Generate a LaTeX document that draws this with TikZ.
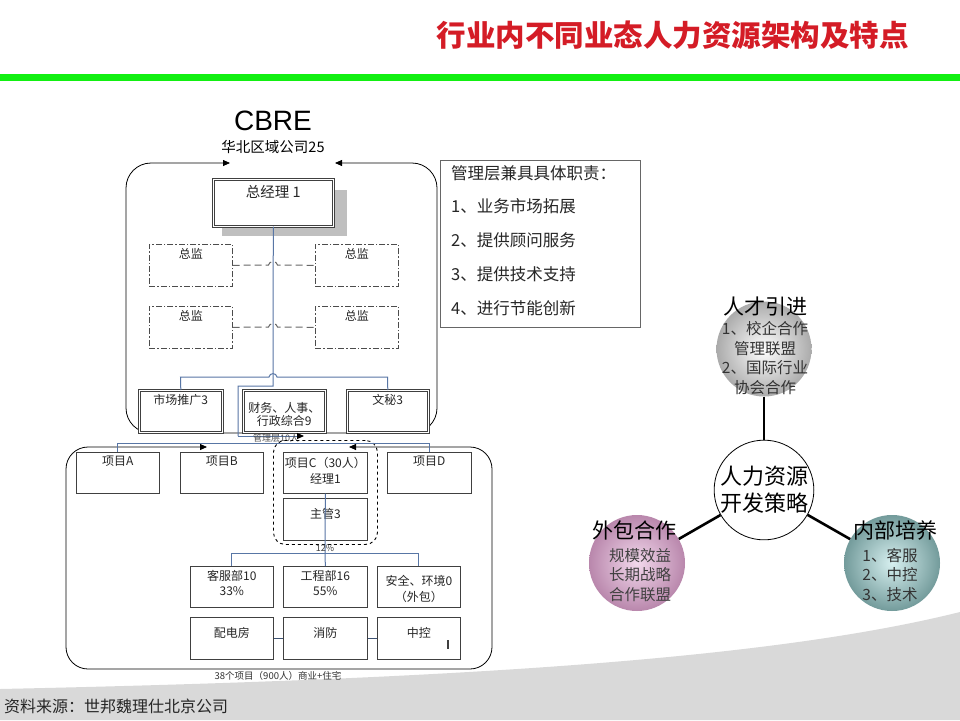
\documentclass[tikz,border=0pt]{standalone}
\usepackage{fontspec}
\setmainfont{Noto Sans CJK SC}
\newfontfamily\arialf{Liberation Sans}
\usetikzlibrary{arrows.meta}
\definecolor{titlered}{RGB}{212,28,38}
\definecolor{bargreen}{RGB}{18,240,18}
\definecolor{lineblue}{RGB}{88,118,165}
\definecolor{swoosh}{RGB}{217,217,217}
\definecolor{pinkin}{RGB}{242,216,236}
\definecolor{pinkout}{RGB}{185,135,172}
\definecolor{tealin}{RGB}{215,240,240}
\definecolor{tealout}{RGB}{115,155,155}
\begin{document}
\begin{tikzpicture}[x=1pt,y=-1pt,
  box/.style={draw=black!75, line width=0.7pt, fill=white, anchor=north west, inner sep=0pt},
  dbox/.style={box, double=white, double distance=1.4pt, line width=0.6pt},
  ddbox/.style={draw=black!70, line width=0.7pt, dash pattern=on 6pt off 2pt on 1.5pt off 2pt, anchor=north west, inner sep=0pt},
  toptext/.style={anchor=north, inner sep=0pt, yshift=-4pt, align=center, font=\fontsize{12}{15}\selectfont, text=black!85},
  bl/.style={draw=lineblue, line width=1pt},
  tip/.style={-{Triangle[length=7pt,width=6pt,color=black]}},
  bothtip/.style={{Triangle[length=7pt,width=6pt]}-{Triangle[length=7pt,width=6pt]}},
  ctitle/.style={font=\fontsize{21}{21}\selectfont, inner sep=0pt},
  cbody/.style={font=\fontsize{15.5}{19.5}\selectfont, inner sep=0pt, align=center, text=black!80},
  strong/.style={line width=2.6pt, draw=black}
]
\useasboundingbox (0,0) rectangle (960,720);
\fill[white] (0,0) rectangle (960,720);

% bottom swoosh
\fill[swoosh] (0,689) .. controls (420,680) and (760,662) .. (960,612) -- (960,720) -- (0,720) -- cycle;

% title and green bar
\node[anchor=east, inner sep=0pt, text=titlered, font=\bfseries\fontsize{29.5}{30}\selectfont] (title) at (909,35) {行业内不同业态人力资源架构及特点};
\fill[bargreen] (0,73.5) rectangle (960,80.5);

% ---------------- upper org box ----------------
\node[font=\arialf\fontsize{28}{28}\selectfont, inner sep=0pt] (cbre) at (273,121) {CBRE};
\node[font=\fontsize{14.5}{15}\selectfont, inner sep=0pt] (region) at (273,147) {华北区域公司25};
\draw[line width=0.8pt, rounded corners=25pt, bothtip] (230,163) -- (126,163) -- (126,433) -- (437,433) -- (437,163) -- (335,163);

\fill[black!25] (222,190) rectangle (347,236);
\node[dbox, minimum width=120pt, minimum height=47pt, label={[toptext, font=\fontsize{14.5}{15}\selectfont, yshift=-2pt]north:总经理 1}] (gm) at (213,179) {};

\node[ddbox, minimum width=83pt, minimum height=42pt, label={[toptext]north:总监}] (zul) at (149,244) {};
\node[ddbox, minimum width=83pt, minimum height=42pt, label={[toptext]north:总监}] (zur) at (315,244) {};
\node[ddbox, minimum width=83pt, minimum height=42pt, label={[toptext]north:总监}] (zll) at (149,306) {};
\node[ddbox, minimum width=83pt, minimum height=42pt, label={[toptext]north:总监}] (zlr) at (315,306) {};

\node[dbox, minimum width=83pt, minimum height=42pt, label={[toptext]north:市场推广3}] (mkt) at (139,390) {};
\node[dbox, minimum width=82pt, minimum height=42pt, label={[toptext, font=\fontsize{12}{13}\selectfont, yshift=-8pt]north:财务、人事、\\行政综合9}] (fin) at (243,390) {};
\node[dbox, minimum width=81pt, minimum height=42pt, label={[toptext]north:文秘3}] (sec) at (347,390) {};

% blue tree lines in upper box
\draw[bl] (gm.south) -- (273,386) -- (238,386) -- (238,436);
\draw[bl, tip] (238,436) -- (304,436);
\draw[bl] (mkt.north) -- (180.5,377) -- (269,377) .. controls (269.5,372.5) and (276.5,372.5) .. (277,377) -- (387.5,377) -- (sec.north);
\draw[draw=black!60, line width=1pt, dash pattern=on 7pt off 4pt] (zul.east) -- (268.5,265) .. controls (269,260.5) and (277,260.5) .. (277.5,265) -- (zur.west);
\draw[draw=black!60, line width=1pt, dash pattern=on 7pt off 4pt] (zll.east) -- (268.5,327) .. controls (269,322.5) and (277,322.5) .. (277.5,327) -- (zlr.west);
\node[font=\fontsize{9}{9}\selectfont, inner sep=0pt, text=black!70] (mgmt) at (276,438) {管理层10人};

% ---------------- info box ----------------
\node[draw=black!60, line width=1.2pt, anchor=north west, minimum width=200pt, minimum height=167pt, inner sep=0pt] (info) at (440,160) {};
\node[anchor=north west, inner sep=0pt, align=left, font=\fontsize{16.5}{33.8}\selectfont, text=black!85] (infotext) at (451,165) {管理层兼具具体职责：\\1、业务市场拓展\\2、提供顾问服务\\3、提供技术支持\\4、进行节能创新};

% ---------------- lower org box ----------------
\draw[line width=0.8pt, rounded corners=22pt, bothtip] (207,447) -- (66,447) -- (66,669) -- (492,669) -- (492,447) -- (349,447);
\node[font=\fontsize{9.5}{10}\selectfont, inner sep=0pt, text=black!80] (total) at (278,676) {38个项目（900人）商业+住宅};

\node[box, minimum width=83pt, minimum height=41pt, label={[toptext]north:项目A}] (pa) at (76,452) {};
\node[box, minimum width=83pt, minimum height=41pt, label={[toptext]north:项目B}] (pb) at (180,452) {};
\node[box, minimum width=84pt, minimum height=41pt, label={[toptext, font=\fontsize{12}{16}\selectfont, yshift=-1pt]north:项目C（30人）\\经理1}] (pc) at (283,452) {};
\node[box, minimum width=84pt, minimum height=41pt, label={[toptext]north:项目D}] (pd) at (387,452) {};
\node[box, minimum width=84pt, minimum height=42pt, label={[toptext, yshift=-6pt]north:主管3}] (zg) at (283,498) {};
\node[draw=black, line width=0.9pt, dashed, rounded corners=12pt, anchor=north west, minimum width=104pt, minimum height=104pt, inner sep=0pt] (grpc) at (273,440) {};

\draw[bl] (pa.north) -- ++(0,-9) -| (pd.north);

\node[box, minimum width=83pt, minimum height=41pt, label={[toptext, font=\fontsize{12}{15}\selectfont, yshift=0pt]north:客服部10\\33\%}] (kf) at (190,566) {};
\node[box, minimum width=84pt, minimum height=41pt, label={[toptext, font=\fontsize{12}{15}\selectfont, yshift=0pt]north:工程部16\\55\%}] (gc) at (283,566) {};
\node[box, minimum width=83pt, minimum height=41pt, label={[toptext, font=\fontsize{12}{16}\selectfont, yshift=-5pt]north:安全、环境0\\（外包）}] (aq) at (377,566) {};
\node[box, minimum width=83pt, minimum height=42pt, label={[toptext, yshift=-6pt]north:配电房}] (pdf) at (190,617) {};
\node[box, minimum width=84pt, minimum height=42pt, label={[toptext, yshift=-6pt]north:消防}] (xf) at (283,617) {};
\node[box, minimum width=83pt, minimum height=42pt, label={[toptext, yshift=-6pt]north:中控}] (zk) at (377,617) {};
\draw[line width=1.6pt, black!75] (448,640) -- (448,649);

\draw[bl] (pc.south) -- (325,553);
\draw[bl] (kf.north) -- ++(0,-13) -| (aq.north);
\draw[bl] (325,553) -- (gc.north);
\node[font=\fontsize{9}{9}\selectfont, inner sep=0pt, text=black!75] (pct) at (325,548) {12\%};
\draw[draw=lineblue!70!black, line width=0.8pt] (pdf.east) -- (xf.west);
\draw[draw=lineblue!70!black, line width=0.8pt] (xf.east) -- (zk.west);

% ---------------- strategy circles ----------------
\node[circle, minimum size=95pt, inner sep=0pt, shading=radial, inner color=white, outer color=black!33] (rc) at (764,349) {};
\node[circle, minimum size=96pt, inner sep=0pt, shading=radial, inner color=pinkin, outer color=pinkout] (wb) at (637,563) {};
\node[circle, minimum size=96pt, inner sep=0pt, shading=radial, inner color=tealin, outer color=tealout] (nb) at (892,563) {};
\node[circle, draw=black, line width=0.8pt, fill=white, minimum size=97pt, inner sep=0pt, align=center, font=\fontsize{22}{27}\selectfont] (ctr) at (764,490) {人力资源\\开发策略};

\draw[strong] (rc) -- (ctr);
\draw[strong] (ctr) -- (wb);
\draw[strong] (ctr) -- (nb);

\node[ctitle] (rct) at (765,307) {人才引进};
\node[cbody] (rcb) at (765,358) {1、校企合作\\管理联盟\\2、国际行业\\协会合作};
\node[ctitle] (wbt) at (634,530) {外包合作};
\node[cbody, text=black!75] (wbb) at (640,575) {规模效益\\长期战略\\合作联盟};
\node[ctitle] (nbt) at (895,530) {内部培养};
\node[cbody] (nbb) at (890,575) {1、客服\\2、中控\\3、技术};

% footer
\node[anchor=west, inner sep=0pt, font=\fontsize{16}{16}\selectfont, text=black!85] (src) at (4,706) {资料来源：世邦魏理仕北京公司};
\end{tikzpicture}
\end{document}
